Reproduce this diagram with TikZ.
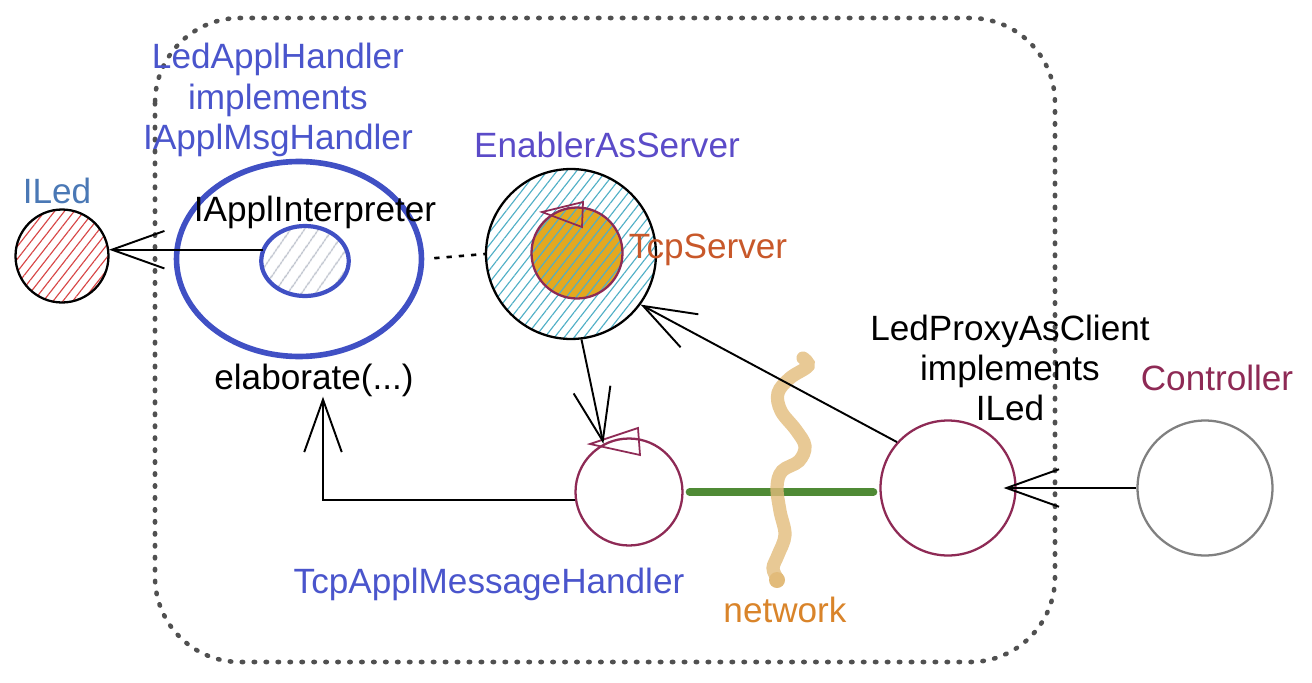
\documentclass[tikz,border=0pt]{standalone}
\usepackage{fontspec}
\setmainfont{Liberation Sans}
\usetikzlibrary{arrows.meta,shapes.geometric,patterns.meta,positioning}

\definecolor{handlerblue}{RGB}{64,80,196}
\definecolor{labelblue}{RGB}{74,85,204}
\definecolor{iledblue}{RGB}{74,120,181}
\definecolor{enablerviolet}{RGB}{91,75,200}
\definecolor{tcprust}{RGB}{200,88,42}
\definecolor{maroon}{RGB}{142,42,85}
\definecolor{tcporange}{RGB}{227,168,32}
\definecolor{hatchcyan}{RGB}{80,175,198}
\definecolor{hatchred}{RGB}{215,70,70}
\definecolor{hatchgray}{RGB}{190,195,205}
\definecolor{linkgreen}{RGB}{79,138,53}
\definecolor{nettan}{RGB}{226,187,122}
\definecolor{netorange}{RGB}{217,132,42}
\definecolor{boundgray}{RGB}{80,80,80}

\begin{document}
\begin{tikzpicture}[
    x=0.02cm, y=-0.02cm,
    font=\fontsize{20}{23}\selectfont,
    comp/.style={circle, draw, line width=1.3pt, inner sep=0pt},
    lbl/.style={align=center, inner sep=0pt},
    hatch/.style={pattern={Lines[angle=52,distance=4.4pt,line width=0.65pt]}, pattern color=#1},
    widehatch/.style={pattern={Lines[angle=55,distance=6.5pt,line width=0.8pt]}, pattern color=#1},
    arrow/.style={-{Straight Barb[length=1.05cm,width=0.75cm,line width=1.1pt]}, line width=1.1pt, black}
]
\useasboundingbox (0,0) rectangle (1312,683);

% System boundary
\draw[boundgray, line width=2.6pt, line cap=round, dash pattern=on 0.8pt off 6pt, rounded corners=1.7cm]
    (155,18) rectangle (1055,662);

% Components
\node[comp, minimum size=1.86cm, hatch=hatchred] (iled) at (62,256) {};
\node[lbl, text=iledblue] (iledlbl) at (57,191) {ILed};

\node[ellipse, draw=handlerblue, line width=3.2pt, minimum width=4.9cm, minimum height=3.9cm] (handler) at (299,259) {};
\node[lbl, text=labelblue] (handlerlbl) at (278,100) {LedApplHandler\\implements\\IApplMsgHandler};
\node[ellipse, draw=handlerblue, line width=2.4pt, minimum width=1.75cm, minimum height=1.4cm,
      widehatch=hatchgray] (interpreter) at (305,261) {};
\node[lbl] (interplbl) at (315,212) {IApplInterpreter};
\node[lbl] (elab) at (314,380) {elaborate(...)};

\node[comp, minimum size=3.4cm, hatch=hatchcyan] (enabler) at (571,254) {};
\node[lbl, text=enablerviolet] (enablerlbl) at (607,145) {EnablerAsServer};
\node[comp, draw=maroon, minimum size=1.82cm, preaction={fill=tcporange}, hatch=hatchcyan] (tcpserver) at (577,253) {};
\draw[maroon, line width=1pt] (542,212) -- (583,202) -- (582,227) -- cycle;
\node[lbl, text=tcprust] (tcpserverlbl) at (708,250) {TcpServer};

\node[comp, draw=maroon, minimum size=2.14cm] (tcpmsg) at (629,492) {};
\draw[maroon, line width=1pt] (590,444) -- (638,428) -- (640,455) -- cycle;
\node[lbl, text=labelblue] (tcpmsglbl) at (489,584) {TcpApplMessageHandler};

\node[comp, draw=maroon, minimum size=2.7cm] (proxy) at (948,488) {};
\node[lbl] (proxylbl) at (1010,368) {LedProxyAsClient\\implements\\ILed};

\node[comp, draw=black!50, minimum size=2.7cm] (controller) at (1205,488) {};
\node[lbl, text=maroon] (controllerlbl) at (1217,378) {Controller};

% Network
\draw[linkgreen, line width=4.5pt, line cap=round, shorten <=0.12cm, shorten >=0.12cm] (tcpmsg.east) -- (tcpmsg.east -| proxy.west);
\draw[nettan, opacity=0.8, line width=7.5pt, line cap=round] plot[smooth, tension=0.6] coordinates
    {(803,358) (808,366) (790,378) (778,393) (781,411) (796,430) (805,446) (799,461) (782,471) (777,487) (780,511) (785,535) (778,555) (773,568) (777,578)};
\fill[nettan] (777,580) circle (0.16cm);
\node[lbl, text=netorange] (netlbl) at (785,610) {network};

% Connectors
\draw[line width=1.5pt, dash pattern=on 3pt off 4pt, shorten <=0.2cm] (handler.east) -- (enabler.west);
\draw[arrow] (interpreter.165) -- (interpreter.165 -| iled.east);
\draw[arrow] (tcpmsg.188) -| ([xshift=0.18cm]elab.south);
\draw[arrow] (enabler.-83) -- (tcpmsg.118);
\draw[arrow] (proxy.138) -- (enabler.-36);
\draw[arrow, shorten >=-0.26cm] (controller.west) -- (proxy.east);

\end{tikzpicture}
\end{document}
